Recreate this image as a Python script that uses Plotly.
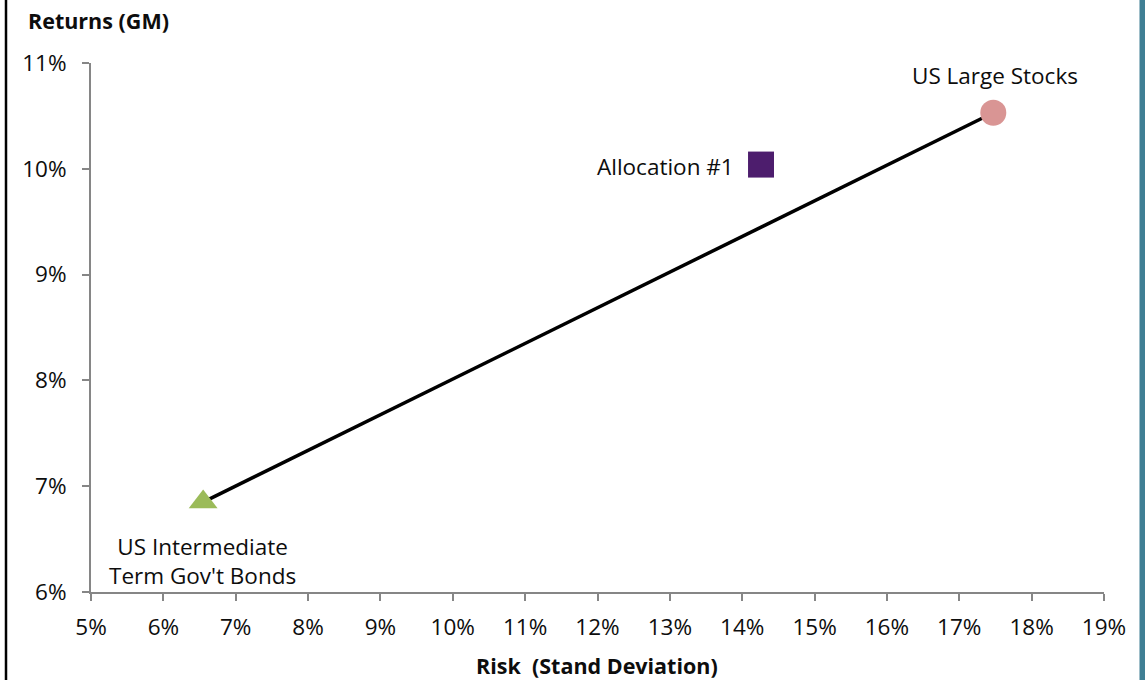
import plotly.graph_objects as go

# Data (percent)
names = ["US Intermediate<br>Term Gov't Bonds", "Allocation #1", "US Large Stocks"]
risk = [6.55, 14.26, 17.47]
returns = [6.85, 10.04, 10.53]
frontier_risk = [6.55, 17.47]
frontier_ret = [6.85, 10.53]
x_ticks = list(range(5, 20))
y_ticks = list(range(6, 12))

FONT = "Open Sans"
grey = "#868686"
TXT = "#0d0d0d"

W, H = 1145, 680
L, T, PW, PH = 91, 63, 1013, 529
R, B = W - L - PW, H - T - PH

def px(xabs):
    return (xabs - L) / PW

def py(yabs):
    return 1 - (yabs - T) / PH

fig = go.Figure()
fig.add_trace(go.Scatter(x=frontier_risk, y=frontier_ret, mode="lines",
                         line=dict(color="black", width=3.5), hoverinfo="skip"))
fig.add_trace(go.Scatter(x=[risk[0]], y=[returns[0]], mode="markers",
                         marker=dict(symbol="triangle-up", size=25, color="#9BBB59")))
fig.add_trace(go.Scatter(x=[risk[1]], y=[returns[1]], mode="markers",
                         marker=dict(symbol="square", size=26, color="#4D1D6D")))
fig.add_trace(go.Scatter(x=[risk[2]], y=[returns[2]], mode="markers",
                         marker=dict(symbol="circle", size=26, color="#D99594")))

LBL = 22.5
fig.add_annotation(x=risk[0], y=returns[0], text=names[0], showarrow=False,
                   xanchor="center", yanchor="middle", xshift=-1, yshift=-59,
                   font=dict(family=FONT, size=LBL, color=TXT), align="center")
fig.add_annotation(x=risk[1], y=returns[1], text=names[1], showarrow=False,
                   xanchor="right", yanchor="middle", xshift=-25, yshift=-2,
                   font=dict(family=FONT, size=LBL, color=TXT))
fig.add_annotation(x=risk[2], y=returns[2], text=names[2], showarrow=False,
                   xanchor="center", yanchor="middle", xshift=2, yshift=37,
                   font=dict(family=FONT, size=LBL, color=TXT))

# axis titles
fig.add_annotation(xref="paper", yref="paper", x=px(26), y=py(21),
                   text="<b>Returns (GM)</b>", showarrow=False, xanchor="left", yanchor="middle",
                   font=dict(family=FONT, size=21.5, color=TXT))
fig.add_annotation(xref="paper", yref="paper", x=px(597), y=py(665),
                   text="<b>Risk  (Stand Deviation)</b>", showarrow=False, xanchor="center", yanchor="middle",
                   font=dict(family=FONT, size=21.5, color=TXT))

# frame decorations
fig.add_shape(type="line", xref="paper", yref="paper",
              x0=px(6), x1=px(6), y0=py(700), y1=py(-10),
              line=dict(color="black", width=2.5))
fig.add_shape(type="rect", xref="paper", yref="paper",
              x0=px(1139.5), x1=px(1150), y0=py(700), y1=py(-10),
              line=dict(width=0), fillcolor="#3F7F94")

TICK = 22.5
fig.update_layout(
    width=W, height=H,
    margin=dict(l=L, r=R, t=T, b=B),
    paper_bgcolor="white", plot_bgcolor="white",
    showlegend=False,
    font=dict(family=FONT, size=TICK, color=TXT),
    xaxis=dict(range=[5, 19], tickvals=x_ticks, ticktext=[f"{v}%" for v in x_ticks],
               showgrid=False, zeroline=False, showline=True, linecolor=grey, linewidth=2,
               ticks="outside", ticklen=7, tickwidth=2, tickcolor=grey, ticklabelstandoff=7,
               tickfont=dict(family=FONT, size=TICK, color=TXT)),
    yaxis=dict(range=[6, 11], tickvals=y_ticks, ticktext=[f"{v}%" for v in y_ticks],
               showgrid=False, zeroline=False, showline=True, linecolor=grey, linewidth=2,
               ticks="outside", ticklen=7, tickwidth=2, tickcolor=grey, ticklabelstandoff=11,
               tickfont=dict(family=FONT, size=TICK, color=TXT)),
)

fig.write_html("out.html", config={"displayModeBar": False},
               post_script="document.body.style.margin='0';document.body.style.overflow='hidden';")
